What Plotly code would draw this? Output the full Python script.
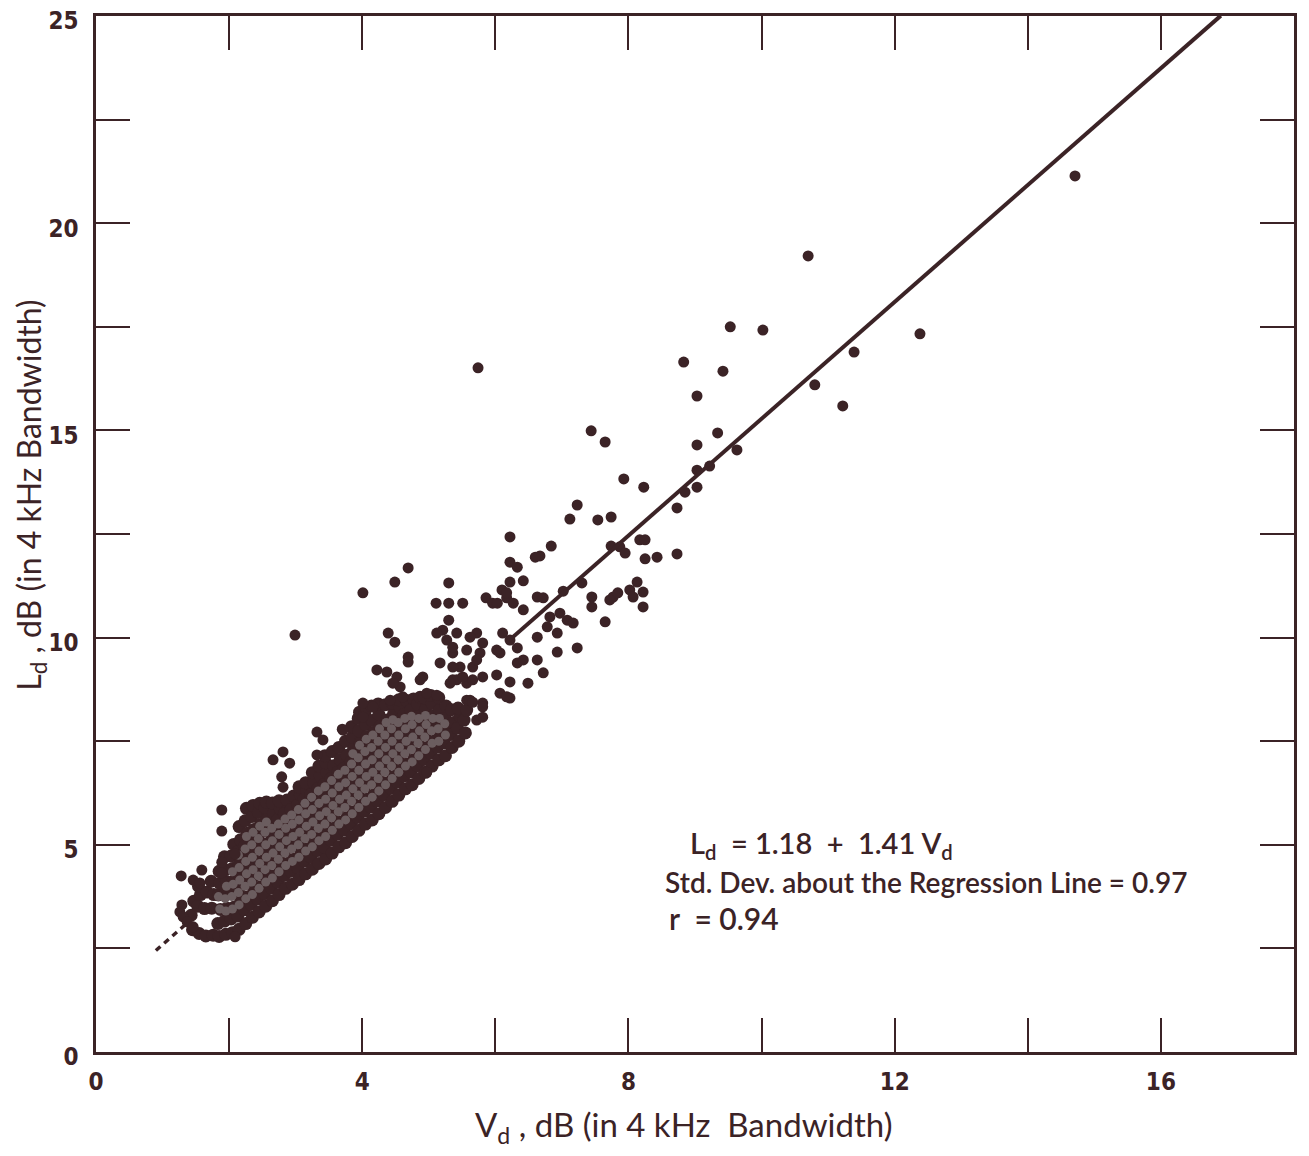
import plotly.graph_objects as go

# ---------------- data ----------------
# regression coefficients quoted on the chart
reg_a = 1.18
reg_b = 1.41
reg_solid_v = [6.2, 16.9]
reg_dash_v = [0.9, 1.45]

# sparse / outlying observations (Vd, Ld)
sparse_pts = [
    (14.71, 21.14), (10.70, 19.21), (12.38, 17.33), (11.39, 16.89), (10.80, 16.10),
    (11.22, 15.59), (10.02, 17.42), (9.53, 17.50), (9.42, 16.43), (8.83, 16.65),
    (9.03, 15.83), (9.34, 14.94), (9.03, 14.65), (9.63, 14.53), (9.22, 14.14),
    (9.03, 14.04), (9.03, 13.63), (8.85, 13.51), (8.73, 13.13), (8.73, 12.02),
    (7.93, 13.83), (8.23, 13.63), (7.44, 14.99), (7.65, 14.72), (5.74, 16.51),
    (7.23, 13.20), (7.12, 12.86), (7.54, 12.84), (7.74, 12.91), (6.22, 12.43),
    (6.84, 12.21), (6.67, 11.97), (6.60, 11.94), (6.22, 11.82), (6.33, 11.70),
    (8.17, 12.36), (8.25, 12.36), (7.74, 12.21), (7.87, 12.19), (7.95, 12.04),
    (8.25, 11.90), (8.43, 11.94), (4.69, 11.68), (5.30, 11.32), (6.42, 11.37),
    (6.22, 11.34), (6.10, 11.15), (6.17, 10.96), (5.11, 10.83), (5.30, 10.83),
    (5.51, 10.83), (5.86, 10.96), (5.96, 10.83), (6.63, 10.98), (6.72, 10.96),
    (7.02, 11.12), (7.30, 11.32), (7.45, 10.98), (7.45, 10.74), (7.77, 10.98),
    (7.84, 11.08), (7.72, 10.91), (8.02, 11.15), (8.13, 11.34), (8.22, 11.10),
    (8.07, 10.98), (8.22, 10.74), (7.65, 10.38), (5.30, 10.42), (5.21, 10.18),
    (6.82, 10.50), (6.97, 10.59), (7.08, 10.42), (6.78, 10.26), (6.93, 10.11),
    (7.17, 10.35), (6.11, 10.11), (6.22, 9.94), (6.63, 10.01), (7.23, 9.75),
    (6.93, 9.65), (6.33, 9.75), (6.07, 9.63), (6.33, 9.39), (6.63, 9.46),
    (6.72, 9.15), (6.49, 8.90), (6.22, 8.93), (6.02, 9.10), (6.07, 8.66),
    (6.22, 8.54), (5.81, 8.42), (5.57, 8.49), (5.12, 10.11), (5.27, 9.94),
    (5.17, 9.39), (5.36, 9.63), (5.47, 9.29), (5.72, 10.11), (5.81, 9.87),
    (5.77, 9.63), (5.66, 9.29), (5.81, 9.05), (4.91, 9.05), (4.69, 9.53),
    (5.36, 8.98), (5.57, 8.90), (4.01, 11.08), (4.49, 11.34), (6.03, 10.83),
    (6.17, 11.08), (6.27, 10.83), (6.42, 10.67), (5.42, 10.11), (5.62, 10.01),
    (5.36, 9.77), (5.57, 9.70), (5.72, 9.46), (5.36, 9.29), (5.42, 8.98),
    (5.51, 9.05), (6.02, 9.70), (6.42, 9.46), (6.17, 8.57), (5.66, 8.98),
    (4.39, 10.11), (4.49, 9.89), (4.69, 9.41), (4.22, 9.22), (4.37, 9.17),
    (4.52, 9.05), (4.57, 8.81), (4.01, 8.42), (4.16, 8.33), (4.42, 8.49),
    (4.61, 8.57), (4.01, 8.08), (3.70, 7.79), (4.97, 8.66), (5.12, 8.61),
    (5.62, 8.49), (5.81, 8.33), (5.72, 8.01), (5.66, 8.44), (5.81, 8.08),
    (3.32, 7.72), (3.41, 7.53), (3.71, 7.77), (2.66, 7.05), (2.81, 7.24),
    (2.91, 6.97), (2.79, 6.64), (2.81, 6.39), (3.32, 7.17), (4.46, 8.90),
    (4.87, 8.98), (5.32, 8.90), (4.97, 6.75), (1.89, 5.84), (1.89, 5.33),
    (2.09, 4.78), (1.89, 4.58), (1.89, 4.32), (1.28, 4.25), (1.59, 4.39),
    (1.46, 4.15), (1.56, 4.08), (1.29, 3.55), (1.26, 3.38), (1.31, 3.26),
    (1.37, 3.14), (1.46, 3.02), (2.09, 2.78), (2.99, 10.06),
]

# dense cloud of overlapping observations (Vd, Ld)
cloud_pts = [
    (1.45, 2.95), (1.43, 3.30), (1.47, 3.64),
    (1.55, 2.86), (1.53, 3.52), (1.57, 3.80), (1.54, 4.00),
    (1.65, 2.80), (1.63, 3.46), (1.67, 3.86),
    (1.76, 2.82), (1.74, 3.47), (1.77, 3.80), (1.73, 4.12),
    (1.85, 2.79), (1.83, 3.10), (1.87, 3.44), (1.84, 3.79), (1.86, 4.07), (1.85, 4.36),
    (1.95, 2.84), (1.93, 3.16), (1.97, 3.47), (1.94, 3.81), (1.96, 4.11), (1.95, 4.40), (1.93, 4.71),
    (2.05, 2.88), (2.03, 3.21), (2.07, 3.49), (2.04, 3.83), (2.06, 4.12), (2.05, 4.43), (2.03, 4.73), (2.07, 5.01),
    (2.15, 2.96), (2.13, 3.28), (2.17, 3.61), (2.14, 3.90), (2.16, 4.21), (2.15, 4.52), (2.13, 4.83), (2.17, 5.12), (2.15, 5.44),
    (2.25, 3.10), (2.23, 3.43), (2.27, 3.74), (2.24, 4.06), (2.26, 4.36), (2.25, 4.67), (2.23, 4.96), (2.27, 5.28), (2.24, 5.58), (2.26, 5.88),
    (2.35, 3.25), (2.33, 3.56), (2.37, 3.86), (2.34, 4.17), (2.36, 4.47), (2.35, 4.77), (2.33, 5.08), (2.37, 5.37), (2.34, 5.68), (2.36, 5.95),
    (2.45, 3.38), (2.43, 3.69), (2.47, 3.98), (2.44, 4.29), (2.46, 4.58), (2.45, 4.89), (2.43, 5.18), (2.47, 5.49), (2.44, 5.78), (2.46, 6.00),
    (2.55, 3.52), (2.53, 3.82), (2.57, 4.13), (2.54, 4.42), (2.56, 4.73), (2.55, 5.02), (2.53, 5.33), (2.57, 5.62), (2.54, 5.90), (2.56, 6.03),
    (2.65, 3.65), (2.63, 3.96), (2.67, 4.25), (2.64, 4.56), (2.66, 4.85), (2.65, 5.16), (2.63, 5.45), (2.67, 5.76), (2.65, 6.01),
    (2.75, 3.80), (2.73, 4.10), (2.77, 4.41), (2.74, 4.70), (2.76, 5.01), (2.75, 5.30), (2.73, 5.61), (2.77, 5.86), (2.75, 6.06),
    (2.85, 3.95), (2.83, 4.26), (2.87, 4.55), (2.84, 4.86), (2.86, 5.15), (2.85, 5.46), (2.83, 5.75), (2.87, 6.08),
    (2.95, 4.05), (2.93, 4.36), (2.97, 4.65), (2.94, 4.96), (2.96, 5.25), (2.95, 5.56), (2.93, 5.85), (2.97, 6.18),
    (3.05, 4.16), (3.03, 4.45), (3.07, 4.76), (3.04, 5.05), (3.06, 5.36), (3.05, 5.65), (3.03, 5.96), (3.07, 6.21), (3.05, 6.40),
    (3.15, 4.30), (3.13, 4.61), (3.17, 4.90), (3.14, 5.21), (3.16, 5.50), (3.15, 5.81), (3.13, 6.10), (3.17, 6.30), (3.15, 6.50),
    (3.25, 4.41), (3.23, 4.70), (3.27, 5.01), (3.24, 5.30), (3.26, 5.61), (3.25, 5.90), (3.23, 6.21), (3.27, 6.50), (3.25, 6.74),
    (3.35, 4.55), (3.33, 4.86), (3.37, 5.15), (3.34, 5.46), (3.36, 5.75), (3.35, 6.06), (3.33, 6.35), (3.37, 6.66), (3.35, 6.90),
    (3.45, 4.66), (3.43, 4.95), (3.47, 5.26), (3.44, 5.55), (3.46, 5.86), (3.45, 6.15), (3.43, 6.46), (3.47, 6.75), (3.45, 6.98), (3.44, 7.15),
    (3.55, 4.80), (3.53, 5.11), (3.57, 5.40), (3.54, 5.71), (3.56, 6.00), (3.55, 6.31), (3.53, 6.60), (3.57, 6.91), (3.55, 7.25),
    (3.65, 4.95), (3.63, 5.26), (3.67, 5.55), (3.64, 5.86), (3.66, 6.15), (3.65, 6.46), (3.63, 6.75), (3.67, 7.06), (3.65, 7.35),
    (3.75, 5.05), (3.73, 5.36), (3.77, 5.65), (3.74, 5.96), (3.76, 6.25), (3.75, 6.56), (3.73, 6.85), (3.77, 7.16), (3.75, 7.50),
    (3.85, 5.20), (3.83, 5.51), (3.87, 5.80), (3.84, 6.11), (3.86, 6.40), (3.85, 6.71), (3.83, 7.00), (3.87, 7.31), (3.85, 7.60), (3.84, 7.85),
    (3.95, 5.35), (3.93, 5.66), (3.97, 5.95), (3.94, 6.26), (3.96, 6.55), (3.95, 6.86), (3.93, 7.15), (3.97, 7.46), (3.95, 7.75), (3.94, 8.05), (3.96, 8.20),
    (4.05, 5.50), (4.03, 5.81), (4.07, 6.10), (4.04, 6.41), (4.06, 6.70), (4.05, 7.01), (4.03, 7.30), (4.07, 7.61), (4.05, 7.90), (4.04, 8.15), (4.06, 8.30),
    (4.15, 5.60), (4.13, 5.91), (4.17, 6.20), (4.14, 6.51), (4.16, 6.80), (4.15, 7.11), (4.13, 7.40), (4.17, 7.71), (4.15, 8.00), (4.14, 8.35),
    (4.25, 5.75), (4.23, 6.06), (4.27, 6.35), (4.24, 6.66), (4.26, 6.95), (4.25, 7.26), (4.23, 7.55), (4.27, 7.86), (4.25, 8.15), (4.24, 8.40),
    (4.35, 5.90), (4.33, 6.21), (4.37, 6.50), (4.34, 6.81), (4.36, 7.10), (4.35, 7.41), (4.33, 7.70), (4.37, 8.01), (4.35, 8.38),
    (4.45, 6.05), (4.43, 6.36), (4.47, 6.65), (4.44, 6.96), (4.46, 7.25), (4.45, 7.56), (4.43, 7.85), (4.47, 8.16), (4.45, 8.42),
    (4.55, 6.20), (4.53, 6.51), (4.57, 6.80), (4.54, 7.11), (4.56, 7.40), (4.55, 7.71), (4.53, 8.00), (4.57, 8.31), (4.55, 8.50),
    (4.65, 6.35), (4.63, 6.66), (4.67, 6.95), (4.64, 7.26), (4.66, 7.55), (4.65, 7.86), (4.63, 8.15), (4.67, 8.48),
    (4.75, 6.45), (4.73, 6.76), (4.77, 7.05), (4.74, 7.36), (4.76, 7.65), (4.75, 7.96), (4.73, 8.25), (4.77, 8.52),
    (4.85, 6.60), (4.83, 6.91), (4.87, 7.20), (4.84, 7.51), (4.86, 7.80), (4.85, 8.11), (4.83, 8.40), (4.87, 8.56),
    (4.95, 6.75), (4.93, 7.06), (4.97, 7.35), (4.94, 7.66), (4.96, 7.95), (4.95, 8.26), (4.93, 8.55),
    (5.05, 6.90), (5.03, 7.21), (5.07, 7.50), (5.04, 7.81), (5.06, 8.10), (5.05, 8.41), (5.03, 8.60),
    (5.15, 7.05), (5.13, 7.36), (5.17, 7.65), (5.14, 7.96), (5.16, 8.25), (5.15, 8.55),
    (5.25, 7.15), (5.23, 7.46), (5.27, 7.75), (5.24, 8.06), (5.26, 8.35),
    (5.35, 7.35), (5.33, 7.66), (5.37, 7.95), (5.34, 8.26),
    (5.45, 7.50), (5.43, 7.81), (5.47, 8.10), (5.44, 8.30),
    (5.55, 7.70), (5.53, 8.01), (5.57, 8.25),
]

# innermost, most heavily overprinted part of the cloud (printed as grey texture)
core_pts = [
    (1.86, 3.45), (1.84, 3.75),
    (1.95, 3.40), (1.94, 3.70), (1.96, 4.00),
    (2.05, 3.45), (2.04, 3.75), (2.06, 4.05), (2.05, 4.35),
    (2.15, 3.55), (2.14, 3.85), (2.16, 4.15), (2.15, 4.45), (2.14, 4.75),
    (2.25, 3.70), (2.24, 4.00), (2.26, 4.30), (2.25, 4.60), (2.24, 4.90), (2.26, 5.20),
    (2.35, 3.80), (2.34, 4.10), (2.36, 4.40), (2.35, 4.70), (2.34, 5.00), (2.36, 5.30),
    (2.45, 3.95), (2.44, 4.25), (2.46, 4.55), (2.45, 4.85), (2.44, 5.15), (2.46, 5.45),
    (2.55, 4.10), (2.54, 4.40), (2.56, 4.70), (2.55, 5.00), (2.54, 5.30), (2.56, 5.55),
    (2.65, 4.20), (2.64, 4.50), (2.66, 4.80), (2.65, 5.10), (2.64, 5.40),
    (2.75, 4.35), (2.74, 4.65), (2.76, 4.95), (2.75, 5.25), (2.74, 5.50),
    (2.85, 4.50), (2.84, 4.80), (2.86, 5.10), (2.85, 5.40), (2.84, 5.62),
    (2.95, 4.60), (2.94, 4.90), (2.96, 5.20), (2.95, 5.50), (2.94, 5.72),
    (3.05, 4.70), (3.04, 5.00), (3.06, 5.30), (3.05, 5.60), (3.04, 5.85),
    (3.15, 4.85), (3.14, 5.15), (3.16, 5.45), (3.15, 5.75), (3.14, 6.00),
    (3.25, 4.95), (3.24, 5.25), (3.26, 5.55), (3.25, 5.85), (3.24, 6.15),
    (3.35, 5.10), (3.34, 5.40), (3.36, 5.70), (3.35, 6.00), (3.34, 6.30),
    (3.45, 5.20), (3.44, 5.50), (3.46, 5.80), (3.45, 6.10), (3.44, 6.40),
    (3.55, 5.35), (3.54, 5.65), (3.56, 5.95), (3.55, 6.25), (3.54, 6.55),
    (3.65, 5.50), (3.64, 5.80), (3.66, 6.10), (3.65, 6.40), (3.64, 6.70),
    (3.75, 5.60), (3.74, 5.90), (3.76, 6.20), (3.75, 6.50), (3.74, 6.80),
    (3.85, 5.75), (3.84, 6.05), (3.86, 6.35), (3.85, 6.65), (3.84, 6.95), (3.86, 7.20),
    (3.95, 5.90), (3.94, 6.20), (3.96, 6.50), (3.95, 6.80), (3.94, 7.10), (3.96, 7.40),
    (4.05, 6.05), (4.04, 6.35), (4.06, 6.65), (4.05, 6.95), (4.04, 7.25), (4.06, 7.55),
    (4.15, 6.15), (4.14, 6.45), (4.16, 6.75), (4.15, 7.05), (4.14, 7.35), (4.16, 7.65),
    (4.25, 6.30), (4.24, 6.60), (4.26, 6.90), (4.25, 7.20), (4.24, 7.50), (4.26, 7.80),
    (4.35, 6.45), (4.34, 6.75), (4.36, 7.05), (4.35, 7.35), (4.34, 7.65), (4.36, 7.95),
    (4.45, 6.60), (4.44, 6.90), (4.46, 7.20), (4.45, 7.50), (4.44, 7.80), (4.46, 8.02),
    (4.55, 6.75), (4.54, 7.05), (4.56, 7.35), (4.55, 7.65), (4.54, 7.95),
    (4.65, 6.90), (4.64, 7.20), (4.66, 7.50), (4.65, 7.80), (4.64, 8.05),
    (4.75, 7.00), (4.74, 7.30), (4.76, 7.60), (4.75, 7.90), (4.74, 8.10),
    (4.85, 7.15), (4.84, 7.45), (4.86, 7.75), (4.85, 8.05),
    (4.95, 7.30), (4.94, 7.60), (4.96, 7.90), (4.95, 8.12),
    (5.05, 7.45), (5.04, 7.75), (5.06, 8.05),
    (5.15, 7.50), (5.14, 7.80), (5.16, 8.05),
    (5.25, 7.65), (5.24, 7.92),
]

# axis ticks: labelled major ticks plus unlabelled minor ticks
x_major_step = 4
x_minor_step = 2
y_major_step = 5
y_minor_step = 2.5

# ---------------- figure ----------------
INK = "#3b2326"
GREY = "#6b5d5f"
TICK_FONT = "Liberation Sans Narrow, DejaVu Sans Condensed, sans-serif"
TEXT_FONT = "Lato, Open Sans, sans-serif"

fig = go.Figure()

fig.add_trace(go.Scatter(
    x=reg_dash_v, y=[reg_a + reg_b * v for v in reg_dash_v],
    mode="lines", line=dict(color=INK, width=3.5, dash="6px,5px"),
    hoverinfo="skip", showlegend=False))

fig.add_trace(go.Scatter(
    x=[p[0] for p in cloud_pts], y=[p[1] for p in cloud_pts],
    mode="markers", marker=dict(size=13, color=INK, line=dict(width=0)),
    showlegend=False))

fig.add_trace(go.Scatter(
    x=[p[0] for p in core_pts], y=[p[1] for p in core_pts],
    mode="markers", marker=dict(size=9, color=GREY, line=dict(width=0)),
    showlegend=False))

fig.add_trace(go.Scatter(
    x=[p[0] for p in sparse_pts], y=[p[1] for p in sparse_pts],
    mode="markers", marker=dict(size=11, color=INK, line=dict(width=0)),
    showlegend=False))

fig.add_trace(go.Scatter(
    x=reg_solid_v, y=[reg_a + reg_b * v for v in reg_solid_v],
    mode="lines", line=dict(color=INK, width=4),
    hoverinfo="skip", showlegend=False))

axis_common = dict(
    showline=True, linecolor=INK, linewidth=2.5, mirror="allticks",
    ticks="inside", ticklen=34, tickwidth=2, tickcolor=INK,
    showgrid=False, zeroline=False, automargin=False,
    ticklabeloverflow="allow",
    tickfont=dict(family=TICK_FONT, size=24, color=INK, weight=600),
)

fig.update_xaxes(range=[0, 18], tick0=0, dtick=x_major_step,
                 minor=dict(dtick=x_minor_step, ticks="inside", ticklen=34, tickwidth=2,
                            tickcolor=INK, showgrid=False),
                 ticklabelstandoff=6, **axis_common)
fig.update_yaxes(range=[0, 25], tick0=0, dtick=y_major_step,
                 minor=dict(dtick=y_minor_step, ticks="inside", ticklen=34, tickwidth=2,
                            tickcolor=INK, showgrid=False),
                 ticklabelstandoff=10, ticklabelshift=5, **axis_common)

fig.add_annotation(text="V<sub>d</sub> , dB (in 4 kHz  Bandwidth)", xref="paper", yref="paper",
                   x=0.49, y=-0.072, showarrow=False, xanchor="center", yanchor="middle",
                   font=dict(family=TEXT_FONT, size=33, color=INK))
fig.add_annotation(text="L<sub>d</sub> , dB (in 4 kHz Bandwidth)", xref="paper", yref="paper",
                   x=-0.0545, y=0.5376, showarrow=False, textangle=-90,
                   xanchor="center", yanchor="middle",
                   font=dict(family=TEXT_FONT, size=32, color=INK))

fig.add_annotation(text="L<sub>d</sub>  = 1.18  +  1.41 V<sub>d</sub>", x=8.89, y=5.0, xref="x", yref="y",
                   showarrow=False, xanchor="left", yanchor="middle",
                   font=dict(family=TEXT_FONT, size=29, color=INK, weight=600))
fig.add_annotation(text="Std. Dev. about the Regression Line = 0.97", x=8.52, y=4.10, xref="x", yref="y",
                   showarrow=False, xanchor="left", yanchor="middle",
                   font=dict(family=TEXT_FONT, size=28, color=INK, weight=600))
fig.add_annotation(text="r  = 0.94", x=8.58, y=3.23, xref="x", yref="y",
                   showarrow=False, xanchor="left", yanchor="middle",
                   font=dict(family=TEXT_FONT, size=30, color=INK, weight=600))

# page body adds an 8px offset; margins chosen so the plot box sits at x 96-1294, y 16-1052
fig.update_layout(
    width=1309, height=1156,
    margin=dict(l=88, r=23, t=8, b=112),
    paper_bgcolor="white", plot_bgcolor="white",
    showlegend=False,
)

fig.write_html("out.html")
